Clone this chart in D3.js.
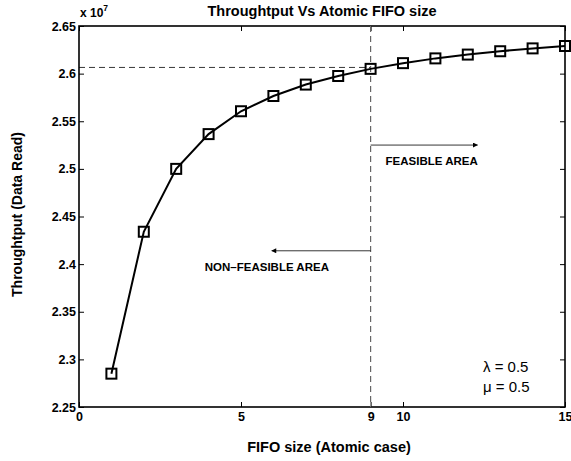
<!DOCTYPE html>
<html>
<head>
<meta charset="utf-8">
<script src="https://cdn.jsdelivr.net/npm/d3@7"></script>
<style>
  body { margin: 0; background: #fff; }
  svg, svg text { font-family: "Liberation Sans", Arial, Helvetica, sans-serif; }
</style>
</head>
<body>
<div id="chart"></div>
<script>
// FIFO sizes and throughput (x 1e7)
const fifoSizes = [1, 2, 3, 4, 5, 6, 7, 8, 9, 10, 11, 12, 13, 14, 15];
const throughput = [2.2850, 2.4340, 2.5000, 2.5365, 2.5605, 2.5765, 2.5885, 2.5975, 2.6050, 2.6110, 2.6160, 2.6200, 2.6235, 2.6265, 2.6290];
const xTicks = [0, 5, 9, 10, 15];
const yTicks = [2.25, 2.3, 2.35, 2.4, 2.45, 2.5, 2.55, 2.6, 2.65];
const feasibleX = 9;
const feasibleY = 2.6065;
const arrowRight = { from: 9, to: 12.3, y: 2.525, label: 'FEASIBLE AREA' };
const arrowLeft = { from: 9, to: 5.95, y: 2.414, label: 'NON\u2013FEASIBLE AREA' };
const params = ['\u03bb = 0.5', '\u03bc = 0.5'];

const config = {
  width: 571, height: 461,
  margin: { top: 26, right: 6, bottom: 54, left: 79 }
};
const width = config.width - config.margin.left - config.margin.right;
const height = config.height - config.margin.top - config.margin.bottom;

const svg = d3.select('#chart').append('svg')
  .attr('width', config.width)
  .attr('height', config.height);

const defs = svg.append('defs');
defs.append('marker')
  .attr('id', 'arrow')
  .attr('viewBox', '0 0 10 10')
  .attr('refX', 9).attr('refY', 5)
  .attr('markerWidth', 9).attr('markerHeight', 5)
  .attr('markerUnits', 'userSpaceOnUse')
  .attr('orient', 'auto')
  .append('path')
    .attr('d', 'M0,0L10,5L0,10Z')
    .attr('fill', '#000');

const g = svg.append('g')
  .attr('transform', `translate(${config.margin.left}, ${config.margin.top})`);

const xScale = d3.scaleLinear().domain([0, 15]).range([0, width]);
const yScale = d3.scaleLinear().domain([2.25, 2.65]).range([height, 0]);

// Axes (ticks inward, MATLAB style)
const axisStyle = sel => {
  sel.attr('font-family', null).attr('font-size', null);
  sel.selectAll('.domain').remove();
  sel.selectAll('line').attr('stroke', '#000').attr('stroke-width', 1);
  sel.selectAll('text')
    .style('font-size', '12.5px').style('font-weight', 'bold').attr('fill', '#000');
};

g.append('g')
  .attr('transform', `translate(0, ${height})`)
  .call(d3.axisBottom(xScale).tickValues(xTicks).tickFormat(d3.format('d'))
    .tickSizeInner(-5).tickSizeOuter(0).tickPadding(5))
  .call(axisStyle);

g.append('g')
  .call(d3.axisTop(xScale).tickValues(xTicks).tickFormat('')
    .tickSizeInner(-5).tickSizeOuter(0))
  .call(axisStyle);

g.append('g')
  .call(d3.axisLeft(yScale).tickValues(yTicks).tickFormat(d => d3.format('.3~f')(d))
    .tickSizeInner(-5).tickSizeOuter(0).tickPadding(3))
  .call(axisStyle);

g.append('g')
  .attr('transform', `translate(${width}, 0)`)
  .call(d3.axisRight(yScale).tickValues(yTicks).tickFormat('')
    .tickSizeInner(-5).tickSizeOuter(0))
  .call(axisStyle);

// Box
g.append('rect')
  .attr('width', width).attr('height', height)
  .attr('fill', 'none').attr('stroke', '#000').attr('stroke-width', 1.6);

// Exponent
g.append('text')
  .attr('x', 1).attr('y', -9)
  .style('font-size', '12px').style('font-weight', 'bold')
  .text('x 10')
  .append('tspan').attr('dy', -6).style('font-size', '8.5px').text('7');

// Reference dashed lines
g.append('line')
  .attr('x1', 0).attr('x2', xScale(feasibleX))
  .attr('y1', yScale(feasibleY)).attr('y2', yScale(feasibleY))
  .attr('stroke', '#000').attr('stroke-width', 0.8)
  .attr('stroke-dasharray', '6,4');

g.append('line')
  .attr('x1', xScale(feasibleX)).attr('x2', xScale(feasibleX))
  .attr('y1', 0).attr('y2', height)
  .attr('stroke', '#666').attr('stroke-width', 1.2)
  .attr('stroke-dasharray', '6,4');

// Arrows and area labels
[arrowRight, arrowLeft].forEach(a => {
  g.append('line')
    .attr('x1', xScale(a.from)).attr('x2', xScale(a.to))
    .attr('y1', yScale(a.y)).attr('y2', yScale(a.y))
    .attr('stroke', '#000').attr('stroke-width', 0.8)
    .attr('marker-end', 'url(#arrow)');
});

g.append('text')
  .attr('x', xScale(arrowRight.from) + 15).attr('y', yScale(arrowRight.y) + 20)
  .style('font-size', '11.5px').style('font-weight', 'bold')
  .text(arrowRight.label);

g.append('text')
  .attr('x', xScale(arrowLeft.to) - 67).attr('y', yScale(arrowLeft.y) + 20)
  .style('font-size', '11.5px').style('font-weight', 'bold')
  .text(arrowLeft.label);

// Data line
const line = d3.line()
  .x((d, i) => xScale(fifoSizes[i]))
  .y(d => yScale(d));

g.append('path')
  .datum(throughput)
  .attr('d', line)
  .attr('fill', 'none')
  .attr('stroke', '#000')
  .attr('stroke-width', 2);

// Square markers
g.selectAll('.marker')
  .data(throughput)
  .join('rect')
    .attr('class', 'marker')
    .attr('x', (d, i) => xScale(fifoSizes[i]) - 5)
    .attr('y', d => yScale(d) - 5)
    .attr('width', 10).attr('height', 10)
    .attr('fill', 'none')
    .attr('stroke', '#000')
    .attr('stroke-width', 2);

// Parameters
g.selectAll('.param')
  .data(params)
  .join('text')
    .attr('class', 'param')
    .attr('x', xScale(12.47))
    .attr('y', (d, i) => height - 35 + i * 20)
    .style('font-size', '15px')
    .text(d => d);

// Title and axis labels
svg.append('text')
  .attr('x', config.margin.left + width / 2).attr('y', 16)
  .attr('text-anchor', 'middle')
  .style('font-size', '14.5px').style('font-weight', 'bold')
  .text('Throughtput Vs Atomic FIFO size');

svg.append('text')
  .attr('x', config.margin.left + width / 2 + 7).attr('y', 452)
  .attr('text-anchor', 'middle')
  .style('font-size', '14.5px').style('font-weight', 'bold')
  .text('FIFO size (Atomic case)');

svg.append('text')
  .attr('transform', `translate(22, ${config.margin.top + height / 2 - 2}) rotate(-90)`)
  .attr('text-anchor', 'middle')
  .style('font-size', '14px').style('font-weight', 'bold')
  .text('Throughtput (Data Read)');
</script>
</body>
</html>
